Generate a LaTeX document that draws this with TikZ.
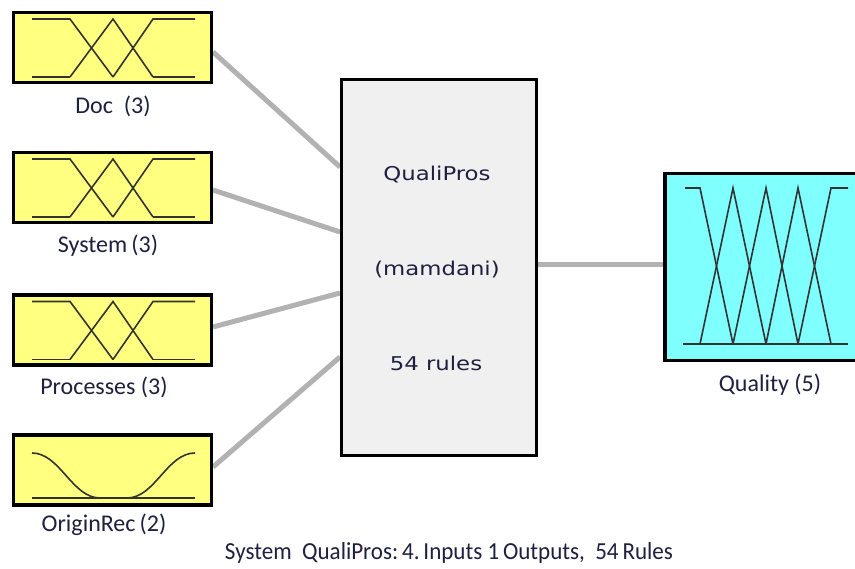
\documentclass[tikz,border=0pt]{standalone}
\usepackage{fontspec}
\setmainfont{Carlito}
\newfontfamily\verd{DejaVu Sans}
\definecolor{inyellow}{rgb}{1,1,0.5}
\definecolor{outcyan}{rgb}{0.5,1,1}
\definecolor{rulegray}{rgb}{0.94,0.94,0.94}
\definecolor{linkgray}{rgb}{0.7,0.7,0.7}
\definecolor{textblue}{rgb}{0.12,0.12,0.25}
\tikzset{
  inbox/.style={draw=black,line width=3.5pt,fill=inyellow,minimum width=198pt,minimum height=70pt,inner sep=0pt},
  outbox/.style={draw=black,line width=3.5pt,fill=outcyan,minimum width=210pt,minimum height=187pt,inner sep=0pt},
  rulebox/.style={draw=black,line width=3.5pt,fill=rulegray,minimum width=195pt,minimum height=376pt,inner sep=0pt},
  mf/.style={line width=1.6pt,draw=black!80},
  link/.style={line width=5pt,draw=linkgray},
  lbl/.style={font=\fontsize{24}{26}\selectfont,text=textblue,inner sep=0pt},
  ctext/.style={font=\verd\fontsize{19}{22}\selectfont,text=textblue,inner sep=0pt,xscale=1.2}
}
\begin{document}
\begin{tikzpicture}[x=1pt,y=-1pt]
\clip (0,0) rectangle (855,569);
\fill[white] (0,0) rectangle (855,569);
% links (behind boxes)
\coordinate (d1) at (213,52);
\coordinate (d2) at (340,167);
\coordinate (s1) at (213,190);
\coordinate (s2) at (340,232);
\coordinate (p1) at (213,327);
\coordinate (p2) at (340,293);
\coordinate (o1) at (213,467);
\coordinate (o2) at (340,357);
\coordinate (q1) at (538,265);
\coordinate (q2) at (665,265);
\draw[link] (d1) -- (d2);
\draw[link] (s1) -- (s2);
\draw[link] (p1) -- (p2);
\draw[link] (o1) -- (o2);
\draw[link] (q1) -- (q2);
% input boxes
\node[inbox] (doc) at (112.5,47.5) {};
\node[inbox] (sys) at (112.5,187.5) {};
\node[inbox] (proc) at (112.5,330) {};
\node[inbox] (orig) at (112.5,470) {};
% triangular MFs
\foreach \yy in {47.5,187.5,330}{
  \begin{scope}[shift={(0,\yy-47.5)}]
  \draw[mf] (32,19) -- (70,19) -- (113,77);
  \draw[mf] (70,77) -- (113,19) -- (153,77);
  \draw[mf] (113,77) -- (153,19) -- (195,19);
  \draw[mf] (32,77) -- (70,77);
  \draw[mf] (153,77) -- (195,77);
  \end{scope}
}
% OriginRec MFs
\draw[mf] (32,498) -- (195,498);
\draw[mf] (32,453) .. controls (60,453) and (72,498) .. (100,498) -- (127,498) .. controls (155,498) and (167,453) .. (195,453);
% labels
\node[lbl] (ldoc) at (113,106) {Doc\ \ (3)};
\node[lbl] (lsys) at (108,246) {System\,(3)};
\node[lbl] (lproc) at (104,387) {Processes (3)};
\node[lbl] (lorig) at (104,525) {OriginRec\,(2)};
% rule box
\node[rulebox] (rules) at (439,267.5) {};
\node[ctext] (t1) at (437,175) {QualiPros};
\node[ctext] (t2) at (437,270) {(mamdani)};
\node[ctext] (t3) at (436,363) {54 rules};
% output box
\node[outbox] (qual) at (770,267) {};
\draw[mf] (683,344) -- (848,344);
\draw[mf] (685,188) -- (700,188) -- (733,344);
\draw[mf] (700,344) -- (733,188) -- (766,344);
\draw[mf] (733,344) -- (766,188) -- (798,344);
\draw[mf] (766,344) -- (798,188) -- (831,344);
\draw[mf] (798,344) -- (831,188) -- (848,188);
\node[lbl] (lqual) at (770,385) {Quality (5)};
% caption
\node[lbl] (cap) at (449,553) {\resizebox{448pt}{17pt}{System\ \ QualiPros:\,4.\,Inputs 1\,Outputs,\ \ 54\,Rules}};
\end{tikzpicture}
\end{document}
